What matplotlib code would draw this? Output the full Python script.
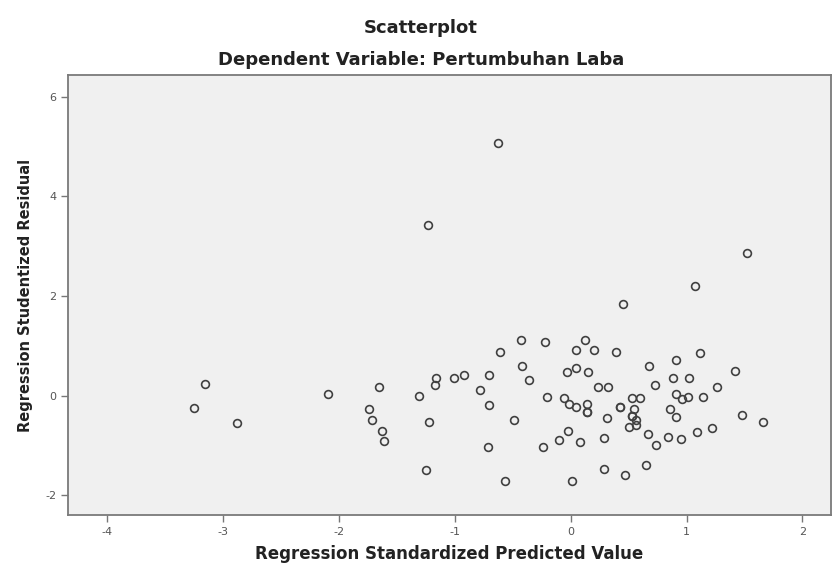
import matplotlib
matplotlib.use("Agg")
import matplotlib.pyplot as plt

plt.rcParams["axes.unicode_minus"] = False

# regression standardized predicted value (x) vs studentized residual (y)
pred = [-0.63, -1.23, 1.52, 1.07, 0.45, -3.15, -3.25, -2.88, -2.09, -1.65,
        -1.74, -1.71, -1.63, -1.61, -1.31, -1.16, -1.17, -1.01, -0.92, -1.22,
        -1.25, -0.43, -0.22, -0.61, 0.12, 0.05, 0.20, -0.70, -0.42, -0.36,
        -0.78, -0.70, -0.49, -0.71, -0.57, -0.03, 0.05, 0.15, 0.24, 0.32,
        -0.20, -0.06, -0.01, 0.05, 0.14, 0.14, 0.14, 0.31, -0.02, -0.10,
        0.08, 0.29, -0.24, 0.29, 0.01, 0.39, 0.68, 0.91, 1.12, 0.88,
        1.02, 0.73, 1.26, 0.53, 0.60, 0.91, 0.96, 1.01, 1.14, 0.43,
        0.43, 0.55, 0.53, 0.53, 0.56, 0.50, 0.56, 0.86, 0.91, 0.67,
        0.84, 0.95, 0.74, 1.09, 1.22, 0.65, 0.47, 1.42, 1.48, 1.66]
resid = [5.08, 3.43, 2.86, 2.21, 1.83, 0.23, -0.26, -0.56, 0.03, 0.17,
         -0.27, -0.49, -0.71, -0.91, -0.01, 0.35, 0.22, 0.36, 0.42, -0.53,
         -1.49, 1.12, 1.07, 0.88, 1.12, 0.91, 0.91, 0.42, 0.60, 0.32,
         0.11, -0.20, -0.49, -1.04, -1.72, 0.48, 0.56, 0.47, 0.18, 0.18,
         -0.03, -0.05, -0.16, -0.24, -0.16, -0.34, -0.34, -0.46, -0.71, -0.90,
         -0.94, -0.86, -1.04, -1.47, -1.72, 0.87, 0.59, 0.72, 0.86, 0.35,
         0.35, 0.22, 0.18, -0.05, -0.05, 0.03, -0.07, -0.03, -0.02, -0.24,
         -0.24, -0.27, -0.42, -0.42, -0.49, -0.63, -0.59, -0.27, -0.44, -0.77,
         -0.84, -0.87, -1.00, -0.73, -0.66, -1.39, -1.59, 0.50, -0.39, -0.54]

xticks = [-4, -3, -2, -1, 0, 1, 2]
yticks = [-2, 0, 2, 4, 6]

fig = plt.figure(figsize=(8.32, 5.68), dpi=100)
ax = fig.add_axes([68/832, 1 - 515/568, (831 - 68)/832, (515 - 75)/568])
ax.set_facecolor("#f0f0f0")

ax.plot(pred, resid, linestyle="none", marker="o", ms=5.6, mfc="none",
        mec="#404040", mew=1.2)

ax.set_xlim(-4.336, 2.246)
ax.set_ylim(-2.40, 6.44)
ax.set_xticks(xticks)
ax.set_yticks(yticks)
ax.tick_params(direction="out", length=5, width=1, color="#777777",
               labelcolor="#555555", labelsize=8)
for s in ax.spines.values():
    s.set_color("#7a7a7a")
    s.set_linewidth(1.3)

ax.set_xlabel("Regression Standardized Predicted Value", fontsize=12,
              fontweight="bold", color="#222222", labelpad=6)
ax.set_ylabel("Regression Studentized Residual", fontsize=10.5,
              fontweight="bold", color="#222222", labelpad=9)

fig.text(421/832, 1 - 28/568, "Scatterplot", ha="center", va="center",
         fontsize=13, fontweight="bold", color="#222222")
fig.text(421/832, 1 - 60/568, "Dependent Variable: Pertumbuhan Laba",
         ha="center", va="center", fontsize=13, fontweight="bold",
         color="#222222")

fig.savefig("out.png", dpi=100)
